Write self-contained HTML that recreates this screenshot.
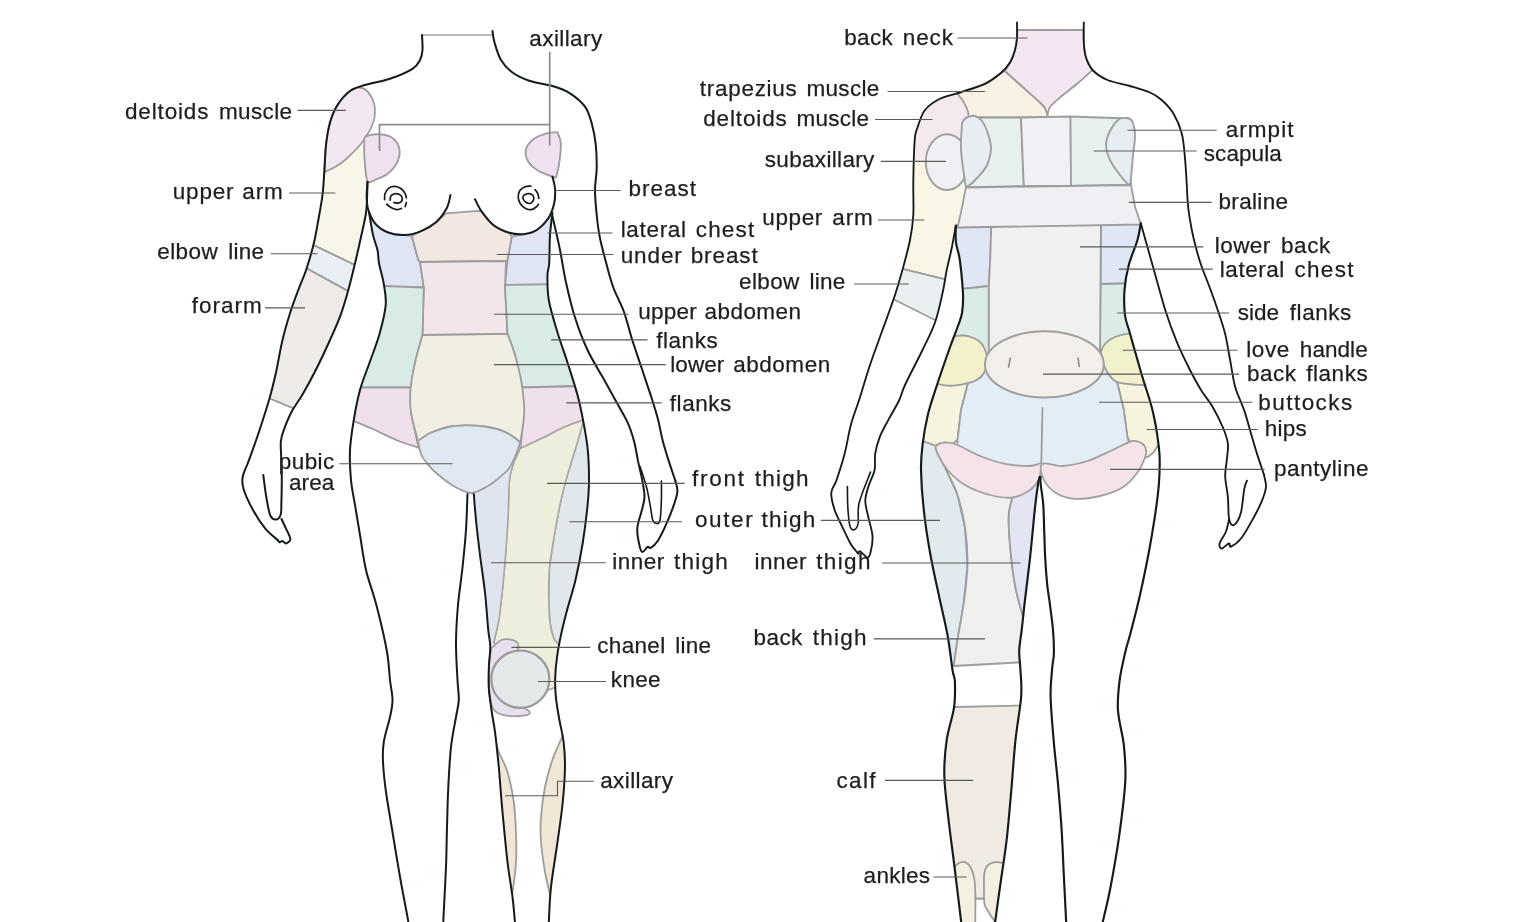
<!DOCTYPE html>
<html lang="en"><head><meta charset="utf-8"><title>Body areas</title>
<style>html,body{margin:0;padding:0;background:#fff}body{width:1536px;height:922px;overflow:hidden}svg{display:block}text{font-family:"Liberation Sans",sans-serif;font-size:22.5px;fill:#1e1e1e;stroke:#1e1e1e;stroke-width:.25px}#stage{width:1536px;height:922px;will-change:transform}</style></head><body><div id="stage">
<svg width="1536" height="922" viewBox="0 0 1536 922">
<rect width="1536" height="922" fill="#fff"/>
<defs>
<clipPath id="cFB"><path d="M408.5 923C408.3 922 408.9 924.7 407.5 917C406.1 909.3 402.5 891.2 400 877C397.5 862.8 394.8 846.2 392.5 832C390.2 817.8 387.6 803.7 386 792C384.4 780.3 383.4 770.3 383 762C382.6 753.7 382.6 749.5 383.8 742C384.9 734.5 388.5 724 390 717C391.5 710 392.5 706.2 392.5 700C392.5 693.8 390.8 687.5 390 680C389.2 672.5 388.8 663.3 387.5 655C386.2 646.7 384.6 639.2 382.5 630C380.4 620.8 377.8 610 375 600C372.2 590 368.5 580.8 366 570C363.5 559.2 361.8 545.8 360 535C358.2 524.2 356.5 514.2 355 505C353.5 495.8 351.8 489.2 351 480C350.2 470.8 349.5 460 350 450C350.5 440 352.1 430 353.8 420C355.4 410 357.4 399.6 360 390C362.6 380.4 366.4 371.7 369.6 362.5C372.8 353.3 376.5 344.6 379.2 335C381.9 325.4 385 313.7 385.7 305C386.4 296.3 384.7 289.9 383.6 283C382.5 276.1 380 268.8 379 263.3C378 257.8 378.5 254.7 377.5 250C376.5 245.3 374.4 241.3 373 235C371.6 228.7 369.7 215.8 369 212L369 30L552.5 30L552.5 213C552.1 216.7 550.5 226.6 550 235C549.5 243.4 549.6 256.6 549.2 263.3C548.8 270 547.6 268.9 547.5 275C547.4 281.1 547.1 290.4 548.8 300C550.4 309.6 554.4 322.1 557.5 332.5C560.6 342.9 564.2 352.1 567.5 362.5C570.8 372.9 574.8 385 577.5 395C580.2 405 581.8 413.3 583.5 422.5C585.2 431.7 586.9 440.4 587.8 450C588.7 459.6 589 470.8 589 480C589 489.2 588.6 494.6 587.6 505C586.6 515.4 584.8 530 582.8 542.5C580.8 555 578.1 568.8 575.5 580C572.9 591.2 569.4 601.2 567.1 610C564.8 618.8 563.1 625.1 561.5 632.6C559.9 640.1 558.3 647.6 557.3 655.1C556.2 662.6 555.4 670.7 555.2 677.7C555 684.8 555.2 690.4 555.9 697.4C556.6 704.4 558.1 712.6 559.4 720C560.7 727.4 562.7 734.2 563.6 742C564.5 749.8 565.2 756.6 565 767C564.8 777.4 563.8 792 562.5 804.5C561.2 817 559.4 828.2 557.5 842C555.6 855.8 552.5 873.5 551 887C549.5 900.5 549.1 917 548.8 923L515 923C514.6 918.7 513.8 907.2 512.5 897C511.2 886.8 509.2 876.2 507.5 862C505.8 847.8 504 827.8 502.5 812C501 796.2 500 780.3 498.8 767C497.5 753.7 496.2 741.2 495 732C493.8 722.8 492.7 718.7 491.7 711.5C490.7 704.3 489.4 696.4 488.9 688.9C488.4 681.4 488.7 673.4 488.9 666.4C489.1 659.4 490.4 652.7 490.3 646.6C490.2 640.5 489.1 638.7 488.2 629.7C487.3 620.7 486.4 605 485 592.5C483.6 580 481.5 567.1 480 555C478.5 542.9 477 530.2 476 520C475 509.8 474.1 498.3 473.8 494L467.5 494C467.2 500 466.8 517.8 466 530C465.2 542.2 463.8 555 462.5 567.5C461.2 580 459.1 592.5 458 605C456.9 617.5 456.1 630 456 642.5C455.9 655 457 670.4 457.5 680C458 689.6 459 693.8 458.8 700C458.5 706.2 457.3 709.2 456 717C454.7 724.8 452.3 735.3 451 747C449.7 758.7 449 773.7 448.3 787C447.6 800.3 447.4 813.7 447 827C446.6 840.3 446.6 852.3 446 867C445.4 881.7 444 905.7 443.6 915C443.2 924.3 443.4 921.7 443.4 923Z"/></clipPath>
<clipPath id="cFA"><path d="M365 85C362.5 86 354.6 87.7 350 91C345.4 94.3 340.8 99.8 337.5 105C334.2 110.2 331.9 115.8 330 122.5C328.1 129.2 326.9 136.8 326 145C325.1 153.2 324.9 163.7 324.3 172C323.7 180.3 323.5 187 322.5 195C321.5 203 319.7 212.2 318.3 220C316.9 227.8 316.1 233.6 314.2 241.7C312.3 249.8 309.3 260.2 306.7 268.3C304.1 276.4 301.1 282.5 298.3 290C295.5 297.5 292.6 305 290 313.3C287.4 321.6 284.9 330 282.5 340C280.1 350 278 363.5 275.8 373.3C273.6 383.1 272.2 389.1 269.4 398.8C266.6 408.6 262.4 421.5 259 431.8C255.6 442.1 251.5 453.1 248.8 460.6C246.1 468.1 243.5 472.2 242.7 477C241.8 481.8 242 484 243.7 489.5C245.4 495 249.4 503.5 253 510C256.6 516.5 261.2 523.6 265.3 528.6C269.4 533.6 275.6 538.1 277.7 540L263.3 475C263.8 478.8 265.2 490.9 266.4 497.7C267.6 504.5 268.8 512.4 270.5 516C272.2 519.6 275 519.7 276.7 519.4C278.4 519.1 280 516.9 280.8 514C281.6 511.1 281.2 507.3 281.4 501.8C281.6 496.3 281.8 487.9 281.8 481C281.8 474.1 281.6 467.1 281.4 460.6C281.2 454.1 280.4 447.1 280.8 442C281.2 436.9 282 434.9 283.9 429.7C285.8 424.5 288.9 416.8 292 411C295.1 405.2 298.4 401.5 302.4 394.7C306.4 387.9 311.2 379.1 315.8 370C320.4 360.9 326 348.9 330 340C334 331.1 336.9 325 340 316.7C343.1 308.4 345.6 299.9 348.3 290C351.1 280.1 354.1 267.3 356.5 257C358.9 246.7 361.4 235.3 363 228C364.6 220.7 365.3 217.7 366 213C366.7 208.3 366.8 205.2 367 200C367.2 194.8 367.4 185 367.5 182Z"/></clipPath>
<clipPath id="cBB"><path d="M961.3 923C960.1 913 956.2 880.7 954 862.9C951.8 845.1 949.7 830.6 948.1 816C946.5 801.4 944.5 787.7 944.3 775C944.1 762.3 945.1 751.1 946.7 739.9C948.3 728.7 952.6 717.5 954 707.7C955.4 697.9 955.1 687.6 954.9 681.3C954.6 675 953.7 677.7 952.5 670C951.3 662.3 949.8 647.5 947.5 635C945.2 622.5 941.7 608.8 938.8 595C935.8 581.2 932.5 566.7 930 552.5C927.5 538.3 925.2 523.8 923.8 510C922.2 496.2 921.2 480.8 921 470C920.8 459.2 921.4 454.2 922.5 445C923.6 435.8 925.4 425 927.8 415C930.2 405 933.5 395.8 937 385C940.5 374.2 945.4 360.2 949 350C952.6 339.8 956.5 330.2 958.7 324C960.9 317.8 961.3 317.3 962 313C962.7 308.7 963.1 303.5 963.1 298C963.1 292.5 962.6 286.7 962 280C961.4 273.3 960.5 264.3 959.5 258C958.5 251.7 956.5 247.4 955.9 242C955.3 236.6 955.8 228.5 955.8 225.8L955.8 20L1140.8 20L1140.8 223.3C1140.2 226.1 1139.5 233.1 1137.5 240C1135.5 246.9 1130.9 256.7 1128.8 265C1126.6 273.3 1125.1 281.7 1124.5 290C1123.9 298.3 1124.2 308.1 1125 315C1125.8 321.9 1127.5 324.5 1129.5 331.7C1131.5 338.9 1134.8 350.5 1137 358.3C1139.2 366.1 1140.6 371.2 1142.8 378.3C1145 385.4 1148.2 394.9 1150 401C1151.8 407.1 1152.5 409.8 1153.6 415C1154.7 420.2 1155.8 425 1156.8 432C1157.8 439 1159.3 448.2 1159.6 457C1159.9 465.8 1159.6 474.7 1158.8 484.8C1158 494.9 1156.4 506.4 1154.7 517.7C1153 529 1151.2 539.6 1148.8 552.5C1146.3 565.4 1143.1 581.2 1140 595C1136.9 608.8 1132.5 625.5 1130 635C1127.5 644.5 1127 644.3 1125.3 652C1123.5 659.7 1120.7 671.5 1119.5 681.3C1118.3 691.1 1117.3 699.9 1118 710.6C1118.7 721.3 1122.7 734 1123.9 745.7C1125.1 757.4 1126 766.2 1125.3 780.9C1124.6 795.5 1121.9 816 1119.5 833.6C1117.1 851.2 1113.5 871.4 1110.7 886.3C1107.9 901.2 1103.9 916.9 1102.5 923L1066.2 923C1065.8 914.9 1064.6 890.5 1063.8 874.6C1063 858.7 1062.5 842.9 1061.5 827.8C1060.5 812.7 1059.3 798.4 1058 783.8C1056.7 769.1 1054.8 754.5 1053.6 739.9C1052.4 725.3 1050.8 708 1050.6 696C1050.4 684 1051.7 675.2 1052.2 668C1052.8 660.8 1053.8 659.3 1053.9 653C1054 646.7 1053.7 638.5 1053 630C1052.3 621.5 1050.6 609.6 1049.6 602C1048.6 594.4 1047.9 591.9 1047.2 584.6C1046.5 577.3 1045.7 567.1 1045.2 558C1044.7 548.9 1044.5 539 1044.2 530C1043.9 521 1043.8 511.6 1043.2 504C1042.6 496.4 1041.2 489 1040.7 484.5C1040.2 480 1040.4 478.2 1040.3 477L1039.6 477C1039.3 478.2 1038.7 480 1038 484.5C1037.3 489 1036.3 496.4 1035.4 504C1034.5 511.6 1033.7 520.7 1032.8 530C1031.9 539.3 1031.1 548.3 1029.8 560C1028.5 571.7 1026.3 588.3 1025 600C1023.6 611.7 1022.7 621.5 1021.7 630C1020.7 638.5 1019.4 644.7 1019.2 651C1019 657.3 1020 660.5 1020.3 668C1020.6 675.5 1022 684 1021.2 696C1020.4 708 1017.2 723.8 1015.5 739.9C1013.8 756 1012.6 776 1011.1 792.6C1009.6 809.2 1008.4 824.9 1006.7 839.5C1005 854.1 1002.9 866.6 1000.9 880.5C998.9 894.4 996 915.9 995 923Z"/></clipPath>
<clipPath id="cBA"><path d="M1010 62.5C1008.3 64.4 1004.2 70.2 1000 73.8C995.8 77.3 991.7 80.6 985 83.8C978.3 86.9 967.5 90 960 92.5C952.5 95 945.8 95.8 940 98.8C934.2 101.7 928.8 105.2 925 110C921.2 114.8 919.2 122.5 917.5 127.5C915.8 132.5 915.4 131 914.7 140C914 149 913.5 169.2 913.3 181.7C913.1 194.2 913.8 205.3 913.3 215C912.8 224.7 911.7 231.4 910 240C908.3 248.6 905.8 257.5 903.3 266.7C900.8 275.9 898.5 284.4 895 295C891.5 305.6 886.7 318.3 882.5 330C878.3 341.7 873.9 353.3 870 365C866.1 376.7 862.3 390.1 859.1 400C855.9 409.9 853.3 415.8 850.9 424.7C848.5 433.6 847.1 444.3 844.7 453.6C842.3 462.9 838.7 473.8 836.5 480.3C834.3 486.8 831.6 487.9 831.3 492.7C830.9 497.5 832.5 503.4 834.4 509.2C836.3 515 840 521.9 842.7 527.7C845.5 533.5 848.3 539.9 850.9 544.2C853.5 548.5 856.9 552 858.1 553.5L858.1 553.5C858.5 553.1 858.7 550.7 860.2 551.4C861.8 552.1 865.7 557.4 867.4 557.6C869.1 557.8 869.6 556.1 870.5 552.5C871.4 548.9 872.9 541.9 872.5 536C872.1 530.1 869.6 523.2 868.4 517.4C867.2 511.6 865.3 506.1 865.3 501C865.3 495.9 866.8 491.7 868.4 486.5C870 481.3 873.5 475.5 874.6 470C875.7 464.5 874.4 459.1 875.2 453.6C876.1 448.1 877.6 442.6 879.7 437.1C881.8 431.6 884.7 426.8 888 420.6C891.3 414.4 896.5 405.9 899.3 400C902.1 394.1 901.1 393.3 905 385C908.9 376.7 917.5 360.4 922.5 350C927.5 339.6 931.7 331.9 935 322.5C938.3 313.1 940.5 302.1 942.5 293.3C944.5 284.6 945.2 277.5 946.7 270C948.2 262.5 950.2 255.7 951.7 248.3C953.2 240.9 955.1 229.6 955.8 225.8L960.8 213.3L965 186.7L963.3 173.3L961 150L962.5 125L968.8 117.5L1047.5 115.5L1040 102.5Z"/></clipPath>
</defs>
<g clip-path="url(#cFA)"><path d="M300 120L380 120L380 268.8L363 268.8L305 241.2L300 241Z" fill="#f8f6e8" stroke="#9d9d9d" stroke-width="1.8" stroke-linejoin="round"/></g>
<g clip-path="url(#cFA)"><path d="M305 241.2L363 268.8L357.7 296.4L296.5 262.7Z" fill="#e9eff4" stroke="#9d9d9d" stroke-width="1.8" stroke-linejoin="round"/></g>
<g clip-path="url(#cFA)"><path d="M296.5 262.7L357.7 296.4L304 412.6L259 394.2Z" fill="#eeebe8" stroke="#9d9d9d" stroke-width="1.8" stroke-linejoin="round"/></g>
<path d="M357.5 87.5C356.2 88.1 353.3 88.1 350 91C346.7 93.9 340.8 99.8 337.5 105C334.2 110.2 331.9 115.8 330 122.5C328.1 129.2 326.9 136.8 326 145C325.1 153.2 324.6 167.5 324.3 172L324.3 172C326.1 171.2 331.6 169 335 167C338.4 165 340.8 163.7 345 160C349.2 156.3 356.5 149 360 145C363.5 141 365 137.5 366 136L366 136C366.7 135 368.6 133.1 370 130C371.4 126.9 373.9 122.1 374.5 117.5C375.1 112.9 375.2 107.1 373.8 102.5C372.3 97.9 368.7 92.5 366 90C363.3 87.5 358.9 87.9 357.5 87.5Z" fill="#f3e7f1" stroke="#9d9d9d" stroke-width="1.8" stroke-linejoin="round"/>
<path d="M365.8 136.7C368.2 135.2 374 134.1 378.3 134.2C382.6 134.3 388.2 135.2 391.7 137.5C395.2 139.8 398.2 144.3 399.2 148.3C400.2 152.3 399.3 157.5 397.5 161.7C395.7 165.9 391.8 170.4 388.3 173.3C384.8 176.2 380.1 177.8 376.7 179.2C373.3 180.6 369.8 183.9 367.8 181.5C365.9 179.1 365.6 171.4 365 165C364.4 158.6 364.1 148 364.2 143.3C364.3 138.6 363.4 138.2 365.8 136.7Z" fill="#f0e1f0" stroke="#9f9f9f" stroke-width="1.9" stroke-linejoin="round"/>
<path d="M557.5 132.3C555.7 132.5 550.7 132.2 546.7 133.3C542.7 134.5 536.8 136.4 533.3 139.2C529.8 142 526.6 146.2 525.8 150C525 153.8 526.2 158.2 528.3 161.7C530.4 165.2 534.1 168.2 538.3 170.8C542.5 173.4 550.5 175.9 553.5 177C556.5 178.1 555.6 177.4 556 177.5L556 177.5C556.5 175.1 558.4 169 559.2 163.3C560 157.6 561.1 148.5 560.8 143.3C560.5 138.1 558 134.1 557.5 132.3Z" fill="#f0e1f0" stroke="#9f9f9f" stroke-width="1.9" stroke-linejoin="round"/>
<g clip-path="url(#cFB)"><path d="M368.3 210C369.4 212.2 371.7 219.6 375 223.3C378.3 227.1 383.3 230.6 388.3 232.5C393.3 234.4 401.1 234.4 405 235C408.9 235.6 410.6 235.7 411.7 235.8L418.3 260L420 262L423.8 287.5L350 286L350 205Z" fill="#dfe5f4" stroke="#9d9d9d" stroke-width="1.8" stroke-linejoin="round"/></g>
<g clip-path="url(#cFB)"><path d="M511.7 236.7C513.6 236.3 519.1 235.3 523.3 234.2C527.5 233.1 532.5 232.7 536.7 230C540.9 227.3 545.7 221.1 548.3 218.3C550.9 215.5 551.8 213.9 552.5 213L600 213L600 283.8L505 285L507.5 260Z" fill="#dfe5f4" stroke="#9d9d9d" stroke-width="1.8" stroke-linejoin="round"/></g>
<path d="M445.8 213.3L478.3 210.8L481.7 211.7C483.6 213.9 488.9 221.5 493.3 225C497.7 228.5 505.2 230.6 508.3 232.5C511.4 234.4 511.1 236 511.7 236.7L507.5 260L506 261L420 262L418.3 260L411.7 235.8L411.7 235.8C413.4 235 417.5 233.2 421.7 230.8C425.9 228.5 432.7 224.6 436.7 221.7C440.7 218.8 444.3 214.7 445.8 213.3Z" fill="#f2e8e1" stroke="#9d9d9d" stroke-width="1.8" stroke-linejoin="round"/>
<path d="M420 262L506 261L505 287L507.5 333.8L422.5 335L423.8 287.5Z" fill="#f3e6ea" stroke="#9d9d9d" stroke-width="1.8" stroke-linejoin="round"/>
<g clip-path="url(#cFB)"><path d="M350 286L385 286L423.8 287.5L422.5 335L415 362.5L410.5 387.5L350 387.5Z" fill="#d9ebe6" stroke="#9d9d9d" stroke-width="1.8" stroke-linejoin="round"/></g>
<g clip-path="url(#cFB)"><path d="M505 285L600 283.8L600 386L572.5 386L521 387.5L515 355L507.5 333.8Z" fill="#d9ebe6" stroke="#9d9d9d" stroke-width="1.8" stroke-linejoin="round"/></g>
<g clip-path="url(#cFB)"><path d="M345 387.5L410.5 387.5L411 412.5L418.5 447.5L418.5 447.5C415 446.3 404.9 443.5 397.5 440.5C390.1 437.5 381.2 432.8 373.9 429.5C366.6 426.2 358.6 423 353.8 421C348.9 419 346.5 418.1 345 417.5Z" fill="#efe0eb" stroke="#9d9d9d" stroke-width="1.8" stroke-linejoin="round"/></g>
<g clip-path="url(#cFB)"><path d="M524.2 412.5L521 387.5L600 386L600 412L600 412C597.3 413.3 589.5 417.3 583.7 419.8C577.9 422.3 571.9 423.8 565.1 426.8C558.3 429.8 550.6 434.2 543.1 437.8C535.6 441.4 524.1 446.8 520.3 448.6Z" fill="#efe0eb" stroke="#9d9d9d" stroke-width="1.8" stroke-linejoin="round"/></g>
<g clip-path="url(#cFB)"><path d="M583.7 419.8L577.5 442L566 480L561 500L555.2 530L549.5 567.5L548.8 600L550.2 624L553.7 638.2L558.7 644.5L600 648L600 412Z" fill="#e1e8eb" stroke="#a8a8a8" stroke-width="1.6" stroke-linejoin="round"/></g>
<g clip-path="url(#cFB)"><path d="M520.3 448.6C524.1 446.8 535.6 441.4 543.1 437.8C550.6 434.2 558.3 429.8 565.1 426.8C571.9 423.8 580.6 421 583.7 419.8L583.7 419.8C582.7 423.5 580.5 432 577.5 442C574.5 452 568.8 470.3 566 480C563.2 489.7 562.8 491.7 561 500C559.2 508.3 557.1 518.8 555.2 530C553.3 541.2 550.6 555.8 549.5 567.5C548.4 579.2 548.6 590.6 548.8 600C548.9 609.4 549.4 617.6 550.2 624C551 630.4 552.3 634.8 553.7 638.2C555.1 641.6 557.9 643.5 558.7 644.5L565 646L565 684L548 690L520 690L493.8 642.4L493.8 642.4C494.5 639.3 496.9 629.4 498 624C499.1 618.6 499 620.2 500.2 610C501.4 599.8 503.7 577.9 505 562.5C506.3 547.1 507.2 531.2 508 517.5C508.8 503.8 508.5 489.2 509.5 480C510.5 470.8 513.2 465 514 462Z" fill="#eeeedc" stroke="#a8a8a8" stroke-width="1.6" stroke-linejoin="round"/></g>
<path d="M520 445C519 447.8 515.8 456.2 514 462C512.2 467.8 510.5 470.8 509.5 480C508.5 489.2 508.8 503.8 508 517.5C507.2 531.2 506.3 547.1 505 562.5C503.7 577.9 501.4 599.8 500.2 610C499 620.2 499.1 618.6 498 624C496.9 629.4 494.5 639.3 493.8 642.4L490.3 646.6L490.3 646.6C489.9 643.8 489.1 638.7 488.2 629.7C487.3 620.7 486.4 605 485 592.5C483.6 580 481.5 567.1 480 555C478.5 542.9 477 530.2 476 520C475 509.8 474.1 498.3 473.8 494Z" fill="#dfe5ee" stroke="none" stroke-width="1.8" stroke-linejoin="round"/>
<path d="M520 445C519 447.8 515.8 456.2 514 462C512.2 467.8 510.5 470.8 509.5 480C508.5 489.2 508.8 503.8 508 517.5C507.2 531.2 506.3 547.1 505 562.5C503.7 577.9 501.4 599.8 500.2 610C499 620.2 499.1 618.6 498 624C496.9 629.4 494.5 639.3 493.8 642.4" fill="none" stroke="#a8a8a8" stroke-width="1.6" stroke-linecap="round" stroke-linejoin="round"/>
<path d="M422.5 335L465 334.6L507.5 333.8L507.5 333.8C508.8 337.3 512.7 346.9 515 355C517.3 363.1 520 372.9 521.5 382.5C523 392.1 524.4 402.5 524.2 412.5C524 422.5 520.9 437.6 520.3 442.6L520.3 442.6C519.3 441.8 517.3 439.5 514.3 437.5C511.3 435.5 507.6 432.6 502.5 430.8C497.4 429 490.1 427.4 483.9 426.5C477.7 425.6 471.2 425.3 465.3 425.4C459.4 425.5 454 425.8 448.3 427C442.6 428.2 436.5 430.2 431.4 432.5C426.3 434.8 420.1 439.6 417.9 441L417.9 441C416.8 436.2 412.2 421 411 412.5C409.8 404 409.8 398.3 410.5 390C411.2 381.7 413 371.7 415 362.5C417 353.3 421.2 339.6 422.5 335Z" fill="#f1efe2" stroke="#9d9d9d" stroke-width="1.8" stroke-linejoin="round"/>
<path d="M417.9 441C420.1 439.6 426.3 434.8 431.4 432.5C436.5 430.2 442.6 428.2 448.3 427C454 425.8 459.4 425.5 465.3 425.4C471.2 425.3 477.7 425.6 483.9 426.5C490.1 427.4 497.4 429 502.5 430.8C507.6 432.6 511.3 435.5 514.3 437.5C517.3 439.5 519.3 441.8 520.3 442.6L520.3 442.6C519.6 444.6 517.8 450.3 516 454.5C514.2 458.7 511.6 464.6 509.3 468C507.1 471.4 505.3 472.3 502.5 474.8C499.7 477.3 496.2 480.5 492.3 483.2C488.4 485.9 482.2 489.3 478.8 490.9C475.4 492.5 474.2 492.9 472 493C469.8 493.1 468.7 493.1 465.3 491.7C461.9 490.3 456.2 487.7 451.7 484.9C447.2 482.1 442.1 478.2 438.2 474.8C434.2 471.4 430.8 468 428 464.6C425.2 461.2 422.9 458.4 421.2 454.5C419.5 450.6 418.4 443.2 417.9 441Z" fill="#e0e9f1" stroke="#9d9d9d" stroke-width="1.8" stroke-linejoin="round"/>
<path d="M491 650C491.7 646.8 491.5 648.3 493.1 646.7C494.8 645.1 498.2 641.5 500.9 640.3C503.6 639.1 506.7 639.1 509.3 639.3C511.9 639.5 514.8 640.5 516.4 641.7C518 642.9 518.7 645.1 518.7 646.7C518.7 648.3 518.2 649.8 516.4 651.5C514.6 653.2 510.7 654.2 508 657C505.3 659.8 501.8 663.3 500 668C498.2 672.7 496.8 680 497 685C497.2 690 498.8 694.7 501 698C503.2 701.3 506.5 703.4 510 705C513.5 706.6 519 706.6 522 707.5C525 708.4 526.4 709.2 527.7 710.1C529 711 530 711.8 529.8 712.6C529.6 713.5 529 714.6 526.3 715.2C523.6 715.8 517.8 716.4 513.6 716.2C509.4 716.1 504.3 715.5 500.9 714.3C497.5 713 495.1 712.8 493.1 708.7C491.1 704.7 489.7 697.1 489 690C488.3 682.9 488.7 672.7 489 666C489.3 659.3 490.3 653.2 491 650Z" fill="#e9e0ef" stroke="#a0a0a0" stroke-width="1.8" stroke-linejoin="round"/>
<ellipse cx="520.3" cy="679.2" rx="29" ry="28.7" fill="#e3e9e8" stroke="#999" stroke-width="2.2"/>
<g clip-path="url(#cFB)"><path d="M496 742C496.5 743.7 496.8 747 498.8 752C500.7 757 505 763.7 507.5 772C510 780.3 512.3 792 513.8 802C515.2 812 515.6 822 516 832C516.4 842 516.6 852 516 862C515.4 872 513.5 885.7 512.5 892C511.5 898.3 510.4 898.7 510 900L488 900L488 742Z" fill="#f0e7d6" stroke="#9d9d9d" stroke-width="1.8" stroke-linejoin="round"/></g>
<g clip-path="url(#cFB)"><path d="M563 733C562.7 734.1 562.8 735.1 561 739.5C559.2 743.9 555.2 751.6 552.5 759.5C549.8 767.4 546.9 777.4 545 787C543.1 796.6 541.7 807.8 541 817C540.3 826.2 540.3 832.8 541 842C541.7 851.2 543.5 863.2 545 872C546.5 880.8 549 889.8 550 894.5C551 899.2 550.8 899.1 551 900L575 900L575 733Z" fill="#f0e7d6" stroke="#9d9d9d" stroke-width="1.8" stroke-linejoin="round"/></g>
<g clip-path="url(#cBA)"><path d="M900 150L975 150L975 286.7L944.2 279.2L903.3 269.2L890 266Z" fill="#f9f6e6" stroke="#9d9d9d" stroke-width="1.8" stroke-linejoin="round"/></g>
<g clip-path="url(#cBA)"><path d="M900 85L957.5 93.8L967.5 110L968.8 117.5L968 162L900 162Z" fill="#f5e9f0" stroke="none" stroke-width="1.8" stroke-linejoin="round"/></g>
<g clip-path="url(#cBA)"><path d="M890 266L903.3 269.2L944.2 279.2L960 283L950 325L935 320L895 300L880 296Z" fill="#eaf0f2" stroke="#9d9d9d" stroke-width="1.8" stroke-linejoin="round"/></g>
<path d="M1005 71C1004.2 71.5 1003.3 71.6 1000 73.8C996.7 75.9 991.7 80.6 985 83.8C978.3 86.9 964.6 90.8 960 92.5C955.4 94.2 957.9 93.5 957.5 93.8L957.5 93.8C958.4 95 961.3 98.3 963 101C964.7 103.7 966.5 107.2 967.5 110C968.5 112.8 968.5 116.2 968.8 117.5L1047.5 117.5L1047.5 115C1047.1 113.8 1046.2 110.1 1045 108C1043.8 105.9 1043.3 105.7 1040 102.5C1036.7 99.3 1030.8 94.2 1025 89C1019.2 83.8 1008.3 74 1005 71Z" fill="#f9f1e4" stroke="#9d9d9d" stroke-width="1.8" stroke-linejoin="round"/>
<path d="M1017 30L1017 37.5C1016.7 39.6 1016.2 45.8 1015 50C1013.8 54.2 1011.7 59 1010 62.5C1008.3 66 1005.8 69.6 1005 71L1005 71C1008.3 74 1019.2 83.8 1025 89C1030.8 94.2 1036.7 99.3 1040 102.5C1043.3 105.7 1043.8 105.9 1045 108C1046.2 110.1 1047.1 113.8 1047.5 115L1047.5 115C1047.9 113.7 1047.9 109.9 1050 107C1052.1 104.1 1055.3 101.5 1060 97.5C1064.7 93.5 1072.6 87.6 1078 83C1083.4 78.4 1090.1 72.2 1092.5 70L1092.5 70C1091.4 67.9 1087.5 62.1 1086 57.5C1084.5 52.9 1084.1 45 1083.8 42.5L1083.8 30Z" fill="#f4e7f3" stroke="#9d9d9d" stroke-width="1.8" stroke-linejoin="round"/>
<g clip-path="url(#cBA)"><ellipse cx="947" cy="162.1" rx="21.2" ry="27.9" fill="#eff0f3" stroke="#9f9f9f" stroke-width="1.9"/></g>
<path d="M966 117.5L1021 117.5L1023.8 186L966 187.5Z" fill="#e5f1ea" stroke="#9d9d9d" stroke-width="1.8" stroke-linejoin="round"/>
<path d="M1021 117.5L1070.5 116.5L1071 186L1023.8 186Z" fill="#f0f0f6" stroke="#9d9d9d" stroke-width="1.8" stroke-linejoin="round"/>
<path d="M1070.5 116.5L1128 118.5L1131 185L1071 186Z" fill="#e5f1ea" stroke="#9d9d9d" stroke-width="1.8" stroke-linejoin="round"/>
<path d="M962.5 122C963.4 119.6 964.9 118.5 967 117.5C969.1 116.5 972.5 115.4 975 116C977.5 116.6 980 118.5 982 121C984 123.5 985.5 126.6 987 131C988.5 135.4 991 141.8 991 147.5C991 153.2 989.2 160.1 987 165C984.8 169.9 981.3 173.4 978 177C974.7 180.6 969.2 186.3 967 186.5C964.8 186.7 965.5 184.1 964.5 178C963.5 171.9 961.5 157.7 961 150C960.5 142.3 961.2 136.7 961.5 132C961.8 127.3 961.6 124.4 962.5 122Z" fill="#e6eef2" stroke="#9f9f9f" stroke-width="1.9" stroke-linejoin="round"/>
<path d="M1118.8 119.5C1121.4 117.3 1123.8 117.8 1126 118C1128.2 118.2 1130.5 118.2 1132 121C1133.5 123.8 1134.8 129.3 1135 135C1135.2 140.7 1133.8 147.1 1133 155C1132.2 162.9 1131.2 177.6 1130.5 182.5C1129.8 187.4 1130.2 185.8 1128.5 184.5C1126.8 183.2 1123.1 179.1 1120 175C1116.9 170.9 1112.3 165 1110 160C1107.7 155 1106 149.8 1106 145C1106 140.2 1107.9 135.2 1110 131C1112.1 126.8 1116.1 121.7 1118.8 119.5Z" fill="#e6eef2" stroke="#9f9f9f" stroke-width="1.9" stroke-linejoin="round"/>
<g clip-path="url(#cBB)"><path d="M940 225L991.3 225L990.3 258L988.8 286L962.5 288.8L940 289Z" fill="#dfe6f5" stroke="#9d9d9d" stroke-width="1.8" stroke-linejoin="round"/></g>
<g clip-path="url(#cBB)"><path d="M1101 224L1150 224L1150 283L1100.5 284Z" fill="#dfe6f5" stroke="#9d9d9d" stroke-width="1.8" stroke-linejoin="round"/></g>
<g clip-path="url(#cBB)"><path d="M940 289L962.5 288.8L988.8 286L988.8 362L940 362Z" fill="#d9ece8" stroke="#9d9d9d" stroke-width="1.8" stroke-linejoin="round"/></g>
<g clip-path="url(#cBB)"><path d="M1100.5 284L1150 283L1150 362L1100 362Z" fill="#d9ece8" stroke="#9d9d9d" stroke-width="1.8" stroke-linejoin="round"/></g>
<g clip-path="url(#cBB)"><path d="M910 378L969 378L967.5 385L961 410L957.5 440L950 446L936 446L922.5 441L910 441Z" fill="#f6f3df" stroke="#9d9d9d" stroke-width="1.8" stroke-linejoin="round"/></g>
<g clip-path="url(#cBB)"><path d="M1117.5 383.8L1116 376L1175 376L1175 446L1158.5 444.5L1154 452L1148.5 456.5L1141 459.5L1127.5 437.5L1123.8 410Z" fill="#f6f3df" stroke="#9d9d9d" stroke-width="1.8" stroke-linejoin="round"/></g>
<path d="M967.5 385L976 354L1110 354L1117.5 383.8L1123.8 410L1127.5 437.5L1130 445L1130 472L957 472L957.5 440L961 410Z" fill="#e3edf6" stroke="#9d9d9d" stroke-width="1.8" stroke-linejoin="round"/>
<path d="M1042.5 408L1041 478" fill="none" stroke="#9d9d9d" stroke-width="1.8" stroke-linecap="round" stroke-linejoin="round"/>
<g clip-path="url(#cBB)"><path d="M938 344C942.7 336.5 948.4 338.4 952.4 337C956.4 335.6 959 335.5 962 335.5C965 335.5 967.8 335.9 970.6 336.8C973.4 337.7 976.7 339.1 979 341C981.3 342.9 983.1 345.3 984.5 348.5C985.9 351.7 987.4 355.9 987.3 360C987.2 364.1 985.6 369.8 984 373C982.4 376.2 979.8 377.9 977.5 379.5C975.2 381.1 974.2 381.6 970 382.6C965.8 383.6 957.7 385.4 952.4 385.7C947.1 386 942.7 384.8 938 384.2C933.3 383.6 924 388.7 924 382C924 375.3 933.3 351.5 938 344Z" fill="#f3f0cc" stroke="#9d9d9d" stroke-width="1.8" stroke-linejoin="round"/></g>
<g clip-path="url(#cBB)"><path d="M1101 352.5C1101.2 348.3 1103.5 345.7 1106 343C1108.5 340.3 1112.4 338 1116 336.5C1119.6 335 1123.5 334.5 1127.5 333.8C1131.5 333 1133.8 331 1140 332C1146.2 333 1160.8 331 1165 340C1169.2 349 1168.8 378.5 1165 386C1161.2 393.5 1148.7 385.3 1142.5 385C1136.3 384.7 1132.6 384.7 1128 384C1123.4 383.3 1118.8 383.7 1115 381C1111.2 378.3 1107.3 372.8 1105 368C1102.7 363.2 1100.8 356.7 1101 352.5Z" fill="#f3f0cc" stroke="#9d9d9d" stroke-width="1.8" stroke-linejoin="round"/></g>
<path d="M991.3 225L1101 224L1100.8 240L1100 355L988.8 355L988.8 286L990.3 258Z" fill="#f0f0f1" stroke="#9d9d9d" stroke-width="1.8" stroke-linejoin="round"/>
<ellipse cx="1044.4" cy="364.4" rx="59.4" ry="33.1" fill="#f2eeea" stroke="#9f9f9f" stroke-width="2"/>
<path d="M1010.3 358L1008.6 367" fill="none" stroke="#8a8a8a" stroke-width="1.6" stroke-linecap="round" stroke-linejoin="round"/>
<path d="M1078 358L1079.3 366.5" fill="none" stroke="#8a8a8a" stroke-width="1.6" stroke-linecap="round" stroke-linejoin="round"/>
<path d="M966 187.5L1131 185L1135 206.7L1141 224.5L957.5 227.5L960.8 213.3L965 192Z" fill="#f0f0f4" stroke="#9d9d9d" stroke-width="1.8" stroke-linejoin="round"/>
<g clip-path="url(#cBB)"><path d="M910 441L922.5 441L936 446L937.5 452.5L947.5 472.5L957.5 495L965 527.5L967.5 565L963.8 602.5L957.5 640L953.8 666L910 666Z" fill="#e0eaef" stroke="#9d9d9d" stroke-width="1.8" stroke-linejoin="round"/></g>
<g clip-path="url(#cBB)"><path d="M940 455L1040 470L1012.5 497.5L1012.5 497.5C1011.9 500.4 1009.2 507.1 1008.8 515C1008.3 522.9 1009 533.3 1010 545C1011 556.7 1012.9 573.3 1015 585C1017.1 596.7 1021.2 610 1022.5 615L1032 620L1032 662.2L1017.5 662.5L953.8 666L953.8 666C954.4 661.7 955.8 650.6 957.5 640C959.2 629.4 962.1 615 963.8 602.5C965.4 590 967.3 577.5 967.5 565C967.7 552.5 966.7 539.2 965 527.5C963.3 515.8 960.4 504.2 957.5 495C954.6 485.8 949.2 476.2 947.5 472.5Z" fill="#efefed" stroke="#9d9d9d" stroke-width="1.8" stroke-linejoin="round"/></g>
<g clip-path="url(#cBB)"><path d="M1040 478L1012.5 497.5L1012.5 497.5C1011.9 500.4 1009.2 507.1 1008.8 515C1008.3 522.9 1009 533.3 1010 545C1011 556.7 1012.9 573.3 1015 585C1017.1 596.7 1021.2 610 1022.5 615L1040 620Z" fill="#e3e5f3" stroke="#9d9d9d" stroke-width="1.8" stroke-linejoin="round"/></g>
<path d="M936 446C937.2 444.2 941.4 442.7 945 442.5C948.6 442.3 951.7 442.8 957.5 445C963.3 447.2 972.1 452.9 980 456C987.9 459.1 996.7 462.1 1005 463.8C1013.3 465.4 1023.9 466 1030 466C1036.1 466 1039.8 462.5 1041.5 463.5C1043.2 464.5 1041 469.2 1040.5 472C1040 474.8 1040.2 477 1038.5 480C1036.8 483 1034.3 487.1 1030 490C1025.7 492.9 1019.2 496.7 1012.5 497.5C1005.8 498.3 997.9 497.1 990 495C982.1 492.9 972.1 489.2 965 485C957.9 480.8 952.1 475.2 947.5 470C942.9 464.8 939.4 457.5 937.5 453.5C935.6 449.5 934.8 447.8 936 446Z" fill="#f4e3e8" stroke="#a0a0a0" stroke-width="1.8" stroke-linejoin="round"/>
<path d="M1042.5 463.8C1045.8 461.8 1055 466.5 1062.5 466C1070 465.5 1079.2 463.7 1087.5 461C1095.8 458.3 1105 453.3 1112.5 450C1120 446.7 1127.5 442 1132.5 441C1137.5 440 1140.2 442.2 1142.5 443.8C1144.8 445.2 1145.6 447.7 1146 450C1146.4 452.3 1146.4 453.8 1145 457.5C1143.6 461.2 1141.2 467.5 1137.5 472.5C1133.8 477.5 1128.8 483.6 1122.5 487.5C1116.2 491.4 1107.9 494.1 1100 496C1092.1 497.9 1082.5 499.3 1075 498.8C1067.5 498.2 1060.3 496 1055 492.5C1049.7 489 1045.1 482.8 1043 478C1040.9 473.2 1039.2 465.8 1042.5 463.8Z" fill="#f4e3e8" stroke="#a0a0a0" stroke-width="1.8" stroke-linejoin="round"/>
<g clip-path="url(#cBB)"><path d="M935 707.3L954.9 707L1018.4 705.6L1035 705.3L1035 898.6L935 898.6Z" fill="#f1eae2" stroke="#9d9d9d" stroke-width="1.8" stroke-linejoin="round"/></g>
<g clip-path="url(#cBB)"><path d="M955 866C955.8 865.4 958.2 863.1 960 862.5C961.8 861.9 964.2 861.6 966 862.5C967.8 863.4 969.6 865.1 971 868C972.4 870.9 973.8 875 974.5 880C975.2 885 975.3 889.7 975.4 898C975.5 906.3 975.2 924.7 975.2 930L950 930Z" fill="#f4f0e0" stroke="#9d9d9d" stroke-width="1.8" stroke-linejoin="round"/></g>
<g clip-path="url(#cBB)"><path d="M1010 866C1008.7 865.5 1005 863.5 1002.3 862.9C999.5 862.3 996 861.8 993.5 862.3C991 862.8 988.5 864 987 866C985.5 868 984.7 870.6 984.2 874.6C983.7 878.6 984 885.1 984 890C984 894.9 983.7 900.2 984.5 904C985.3 907.8 987.1 909.5 989 912.7C990.9 915.9 994.8 921.3 996 923L996 930L1010 930Z" fill="#f4f0e0" stroke="#9d9d9d" stroke-width="1.8" stroke-linejoin="round"/></g>
<path d="M975.4 898.6L984.2 898.6" fill="none" stroke="#9d9d9d" stroke-width="1.8" stroke-linecap="round" stroke-linejoin="round"/>
<path d="M422 35L492.5 35" fill="none" stroke="#a0a8a8" stroke-width="1.5" stroke-linecap="round" stroke-linejoin="round"/>
<path d="M422 35C422.1 37.5 422.8 45.8 422.5 50C422.2 54.2 421.7 56.9 420 60C418.3 63.1 417.5 65.6 412.5 68.8C407.5 71.9 397.9 76 390 78.8C382.1 81.5 371.7 83 365 85C358.3 87 354.6 87.7 350 91C345.4 94.3 340.8 99.8 337.5 105C334.2 110.2 331.9 115.8 330 122.5C328.1 129.2 326.9 136.8 326 145C325.1 153.2 324.9 163.7 324.3 172C323.7 180.3 323.5 187 322.5 195C321.5 203 319.7 212.2 318.3 220C316.9 227.8 316.1 233.6 314.2 241.7C312.3 249.8 309.3 260.2 306.7 268.3C304.1 276.4 301.1 282.5 298.3 290C295.5 297.5 292.6 305 290 313.3C287.4 321.6 284.9 330 282.5 340C280.1 350 278 363.5 275.8 373.3C273.6 383.1 272.2 389.1 269.4 398.8C266.6 408.6 262.4 421.5 259 431.8C255.6 442.1 251.5 453.1 248.8 460.6C246.1 468.1 243.5 472.2 242.7 477C241.8 481.8 242 484 243.7 489.5C245.4 495 249.4 503.5 253 510C256.6 516.5 261.2 523.6 265.3 528.6C269.4 533.6 275.6 538.1 277.7 540" fill="none" stroke="#151b1b" stroke-width="2.0" stroke-linecap="round" stroke-linejoin="round"/>
<path d="M277.7 540C278 540.4 278.9 542.1 279.7 542.3C280.5 542.5 281.4 540.8 282.5 541C283.6 541.2 284.7 543.8 286 543.5C287.3 543.2 290.3 541.5 290.3 539C290.3 536.5 287.5 531.9 286 528.6C284.5 525.3 282.2 520.6 281.5 519" fill="none" stroke="#151b1b" stroke-width="2.0" stroke-linecap="round" stroke-linejoin="round"/>
<path d="M367.5 182C367.4 185 367.2 194.8 367 200C366.8 205.2 366.7 208.3 366 213C365.3 217.7 364.6 220.7 363 228C361.4 235.3 358.9 246.7 356.5 257C354.1 267.3 351.1 280.1 348.3 290C345.6 299.9 343.1 308.4 340 316.7C336.9 325 334 331.1 330 340C326 348.9 320.4 360.9 315.8 370C311.2 379.1 306.4 387.9 302.4 394.7C298.4 401.5 295.1 405.2 292 411C288.9 416.8 285.8 424.5 283.9 429.7C282 434.9 281.2 436.9 280.8 442C280.4 447.1 281.2 454.1 281.4 460.6C281.6 467.1 281.8 474.1 281.8 481C281.8 487.9 281.6 496.3 281.4 501.8C281.2 507.3 281.6 511.1 280.8 514C280 516.9 278.4 519.1 276.7 519.4C275 519.7 272.2 519.6 270.5 516C268.8 512.4 267.6 504.5 266.4 497.7C265.2 490.9 263.8 478.8 263.3 475" fill="none" stroke="#151b1b" stroke-width="2.0" stroke-linecap="round" stroke-linejoin="round"/>
<path d="M369 212C369.7 215.8 371.6 228.7 373 235C374.4 241.3 376.5 245.3 377.5 250C378.5 254.7 378 257.8 379 263.3C380 268.8 382.5 276.1 383.6 283C384.7 289.9 386.4 296.3 385.7 305C385 313.7 381.9 325.4 379.2 335C376.5 344.6 372.8 353.3 369.6 362.5C366.4 371.7 362.6 380.4 360 390C357.4 399.6 355.4 410 353.8 420C352.1 430 350.5 440 350 450C349.5 460 350.2 470.8 351 480C351.8 489.2 353.5 495.8 355 505C356.5 514.2 358.2 524.2 360 535C361.8 545.8 363.5 559.2 366 570C368.5 580.8 372.2 590 375 600C377.8 610 380.4 620.8 382.5 630C384.6 639.2 386.2 646.7 387.5 655C388.8 663.3 389.2 672.5 390 680C390.8 687.5 392.5 693.8 392.5 700C392.5 706.2 391.5 710 390 717C388.5 724 384.9 734.5 383.8 742C382.6 749.5 382.6 753.7 383 762C383.4 770.3 384.4 780.3 386 792C387.6 803.7 390.2 817.8 392.5 832C394.8 846.2 397.5 862.8 400 877C402.5 891.2 406.1 909.3 407.5 917C408.9 924.7 408.3 922 408.5 923" fill="none" stroke="#151b1b" stroke-width="2.0" stroke-linecap="round" stroke-linejoin="round"/>
<path d="M467.5 494C467.2 500 466.8 517.8 466 530C465.2 542.2 463.8 555 462.5 567.5C461.2 580 459.1 592.5 458 605C456.9 617.5 456.1 630 456 642.5C455.9 655 457 670.4 457.5 680C458 689.6 459 693.8 458.8 700C458.5 706.2 457.3 709.2 456 717C454.7 724.8 452.3 735.3 451 747C449.7 758.7 449 773.7 448.3 787C447.6 800.3 447.4 813.7 447 827C446.6 840.3 446.6 852.3 446 867C445.4 881.7 444 905.7 443.6 915C443.2 924.3 443.4 921.7 443.4 923" fill="none" stroke="#151b1b" stroke-width="2.0" stroke-linecap="round" stroke-linejoin="round"/>
<path d="M473.8 494C474.1 498.3 475 509.8 476 520C477 530.2 478.5 542.9 480 555C481.5 567.1 483.6 580 485 592.5C486.4 605 487.3 620.7 488.2 629.7C489.1 638.7 490.2 640.5 490.3 646.6C490.4 652.7 489.1 659.4 488.9 666.4C488.7 673.4 488.4 681.4 488.9 688.9C489.4 696.4 490.7 704.3 491.7 711.5C492.7 718.7 493.8 722.8 495 732C496.2 741.2 497.5 753.7 498.8 767C500 780.3 501 796.2 502.5 812C504 827.8 505.8 847.8 507.5 862C509.2 876.2 511.2 886.8 512.5 897C513.8 907.2 514.6 918.7 515 923" fill="none" stroke="#151b1b" stroke-width="2.0" stroke-linecap="round" stroke-linejoin="round"/>
<path d="M552.5 213C552.1 216.7 550.5 226.6 550 235C549.5 243.4 549.6 256.6 549.2 263.3C548.8 270 547.6 268.9 547.5 275C547.4 281.1 547.1 290.4 548.8 300C550.4 309.6 554.4 322.1 557.5 332.5C560.6 342.9 564.2 352.1 567.5 362.5C570.8 372.9 574.8 385 577.5 395C580.2 405 581.8 413.3 583.5 422.5C585.2 431.7 586.9 440.4 587.8 450C588.7 459.6 589 470.8 589 480C589 489.2 588.6 494.6 587.6 505C586.6 515.4 584.8 530 582.8 542.5C580.8 555 578.1 568.8 575.5 580C572.9 591.2 569.4 601.2 567.1 610C564.8 618.8 563.1 625.1 561.5 632.6C559.9 640.1 558.3 647.6 557.3 655.1C556.2 662.6 555.4 670.7 555.2 677.7C555 684.8 555.2 690.4 555.9 697.4C556.6 704.4 558.1 712.6 559.4 720C560.7 727.4 562.7 734.2 563.6 742C564.5 749.8 565.2 756.6 565 767C564.8 777.4 563.8 792 562.5 804.5C561.2 817 559.4 828.2 557.5 842C555.6 855.8 552.5 873.5 551 887C549.5 900.5 549.1 917 548.8 923" fill="none" stroke="#151b1b" stroke-width="2.0" stroke-linecap="round" stroke-linejoin="round"/>
<path d="M552.5 216.7C553.8 222.2 557.8 239 560 250C562.2 261 563.5 271.2 566 282.5C568.5 293.8 571.4 306.2 575 317.5C578.6 328.8 582.8 339.9 587.5 350C592.2 360.1 598.6 369.9 603.3 378.3C608 386.7 611.5 393.1 615.6 400.6C619.7 408.1 624.9 416.4 628 423.3C631.1 430.2 632.5 435.3 634.2 441.8C635.9 448.3 636.9 455.9 638.3 462.4C639.7 468.9 641.4 475.2 642.4 481C643.4 486.8 644.7 492.3 644.5 497.4C644.3 502.5 642.6 506.7 641.4 511.8C640.2 517 637.6 522.8 637.3 528.3C636.9 533.8 638.4 540.8 639.3 544.8C640.1 548.8 641 551.6 642.4 552C643.8 552.4 646.2 547.6 647.6 546.9C649 546.2 648.9 548.9 650.6 547.9C652.3 546.9 655.1 545 657.9 540.7C660.6 536.4 664.4 528.4 667.1 522.2C669.8 516 672.6 508.8 674.3 503.6C676 498.4 677.2 495 677.4 491.2C677.6 487.4 675.7 482.7 675.4 481" fill="none" stroke="#151b1b" stroke-width="2.0" stroke-linecap="round" stroke-linejoin="round"/>
<path d="M492.5 31C492.8 32.9 493.1 37.7 494.5 42.5C495.9 47.3 498 55 501 60C504 65 507.7 69 512.5 72.5C517.3 76 523.3 78.8 530 81C536.7 83.2 545.8 84 552.5 86C559.2 88 564.6 89.8 570 93.3C575.4 96.8 581.4 101.7 585 106.7C588.6 111.7 589.9 116.9 591.7 123.3C593.5 129.7 595 137.5 595.8 145C596.6 152.5 596.8 160.8 596.7 168.3C596.6 175.8 595 182.2 595 190C595 197.8 595.9 206.9 596.7 215C597.5 223.1 598.3 230 600 238.3C601.7 246.6 604.5 256.7 606.7 265C609 273.3 610.6 280.2 613.5 288C616.4 295.8 621 303.6 624 312C627 320.4 628.8 328.9 631.7 338.3C634.7 347.7 638.4 358.3 641.7 368.3C645 378.3 649 389.8 651.7 398.3C654.4 406.8 656 411.9 657.9 419.1C659.8 426.4 661.1 434.6 663 441.8C664.9 449 667.1 455.9 669.2 462.4C671.3 468.9 674.4 477.9 675.4 481" fill="none" stroke="#151b1b" stroke-width="2.0" stroke-linecap="round" stroke-linejoin="round"/>
<path d="M367.5 181.7C367.4 184.2 366.6 192 366.7 196.7C366.8 201.4 366.9 205.6 368.3 210C369.7 214.4 371.7 219.6 375 223.3C378.3 227.1 383.3 230.6 388.3 232.5C393.3 234.4 399.4 235.3 405 235C410.6 234.7 416.4 233 421.7 230.8C427 228.6 432.5 225.4 436.7 221.7C440.9 217.9 444.4 212.8 446.7 208.3C449 203.9 449.9 197.2 450.5 195" fill="none" stroke="#151b1b" stroke-width="2.0" stroke-linecap="round" stroke-linejoin="round"/>
<path d="M475 199.2C476.1 201.3 478.6 207.4 481.7 211.7C484.8 216 488.9 221.5 493.3 225C497.7 228.5 503.3 231 508.3 232.5C513.3 234 518.6 234.6 523.3 234.2C528 233.8 532.5 232.7 536.7 230C540.9 227.3 545.4 222.8 548.3 218.3C551.2 213.9 553.1 208.3 554.2 203.3C555.3 198.3 555.3 192.7 555 188.3C554.7 183.9 552.9 178.6 552.5 176.7" fill="none" stroke="#151b1b" stroke-width="2.0" stroke-linecap="round" stroke-linejoin="round"/>
<path d="M640 466.5C641.1 469.9 644.7 480.1 646.5 487C648.3 493.9 649.6 502.2 650.6 507.7C651.6 513.2 651.7 517.4 652.7 520C653.7 522.6 655.6 523.5 656.8 523.5C658 523.5 659.2 524 660 520C660.8 516 661.2 506 661.4 499.5C661.6 493 661.4 484.1 661.4 481" fill="none" stroke="#151b1b" stroke-width="1.6" stroke-linecap="round" stroke-linejoin="round"/>
<g fill="none" stroke="#151b1b" stroke-width="1.7" stroke-linecap="round" stroke-linejoin="round">
<path d="M384.6 199.6C384.7 198.6 384.2 195.7 385 193.8C385.8 191.8 387.5 189.1 389.1 187.9C390.8 186.7 392.9 186.3 394.9 186.4C396.8 186.5 399.1 187.4 400.8 188.5C402.5 189.6 404 191.6 404.9 193.2C405.8 194.8 406.1 197.1 406.4 197.8"/>
<path d="M406.4 202.5C406.2 203.2 405.4 205.9 405.2 206.6"/>
<path d="M386.7 204.3C387.5 204.9 389.7 206.9 391.4 207.8C393.1 208.7 395 209.5 396.7 209.6C398.4 209.7 400.6 208.6 401.4 208.4"/>
<path d="M390.2 200.2C390.3 199.5 390.1 197.2 390.8 196.1C391.5 195 392.9 194.1 394.3 193.8C395.7 193.4 397.7 193.7 399 194.3C400.3 194.9 401.6 196.1 402 197.3C402.4 198.5 402.1 200.4 401.4 201.4C400.7 202.4 399.2 202.9 397.9 203.1C396.6 203.3 394.4 202.6 393.8 202.5"/>
<path d="M530.9 186.1C529.9 186.2 526.9 185.9 525 186.7C523.1 187.5 520.8 189 519.7 190.8C518.6 192.6 518.1 195.2 518.2 197.3C518.3 199.5 519.1 201.8 520.3 203.7C521.5 205.5 523.7 207.4 525.6 208.4C527.5 209.4 529.6 209.9 531.5 209.6C533.4 209.3 535.5 207.5 536.7 206.6C537.9 205.7 538.2 204.7 538.5 204.3"/>
<path d="M535 189.6C535.5 190.3 537.3 192.3 537.9 193.8C538.5 195.2 538.6 197.6 538.8 198.4"/>
<path d="M523.2 196.1C523.8 195.2 525.4 194.1 526.8 193.8C528.2 193.4 530.3 193.7 531.5 194.3C532.7 194.9 533.6 196.1 533.8 197.3C534 198.5 533.3 200.4 532.6 201.4C531.9 202.4 530.9 203.4 529.7 203.5C528.5 203.6 526.7 202.8 525.6 202C524.5 201.2 523.6 200 523.2 199C522.8 198 522.6 197 523.2 196.1Z"/>
</g>
<path d="M1017 22.5C1017 25 1017.3 32.9 1017 37.5C1016.7 42.1 1016.2 45.8 1015 50C1013.8 54.2 1012.5 58.5 1010 62.5C1007.5 66.5 1004.2 70.2 1000 73.8C995.8 77.3 991.7 80.6 985 83.8C978.3 86.9 967.5 90 960 92.5C952.5 95 945.8 95.8 940 98.8C934.2 101.7 928.8 105.2 925 110C921.2 114.8 919.2 122.5 917.5 127.5C915.8 132.5 915.4 131 914.7 140C914 149 913.5 169.2 913.3 181.7C913.1 194.2 913.8 205.3 913.3 215C912.8 224.7 911.7 231.4 910 240C908.3 248.6 905.8 257.5 903.3 266.7C900.8 275.9 898.5 284.4 895 295C891.5 305.6 886.7 318.3 882.5 330C878.3 341.7 873.9 353.3 870 365C866.1 376.7 862.3 390.1 859.1 400C855.9 409.9 853.3 415.8 850.9 424.7C848.5 433.6 847.1 444.3 844.7 453.6C842.3 462.9 838.7 473.8 836.5 480.3C834.3 486.8 831.6 487.9 831.3 492.7C830.9 497.5 832.5 503.4 834.4 509.2C836.3 515 840 521.9 842.7 527.7C845.5 533.5 848.3 539.9 850.9 544.2C853.5 548.5 856.9 552 858.1 553.5" fill="none" stroke="#151b1b" stroke-width="1.85" stroke-linecap="round" stroke-linejoin="round"/>
<path d="M955.8 225.8C955.1 229.6 953.2 240.9 951.7 248.3C950.2 255.7 948.2 262.5 946.7 270C945.2 277.5 944.5 284.6 942.5 293.3C940.5 302.1 938.3 313.1 935 322.5C931.7 331.9 927.5 339.6 922.5 350C917.5 360.4 908.9 376.7 905 385C901.1 393.3 902.1 394.1 899.3 400C896.5 405.9 891.3 414.4 888 420.6C884.7 426.8 881.8 431.6 879.7 437.1C877.6 442.6 876.1 448.1 875.2 453.6C874.4 459.1 875.7 464.5 874.6 470C873.5 475.5 870 481.3 868.4 486.5C866.8 491.7 865.3 495.9 865.3 501C865.3 506.1 867.2 511.6 868.4 517.4C869.6 523.2 872.1 530.1 872.5 536C872.9 541.9 871.4 548.9 870.5 552.5C869.6 556.1 869.1 557.8 867.4 557.6C865.7 557.4 861.8 552.1 860.2 551.4C858.7 550.7 858.5 553.1 858.1 553.5" fill="none" stroke="#151b1b" stroke-width="1.85" stroke-linecap="round" stroke-linejoin="round"/>
<path d="M1140.8 223.3C1142 227.8 1145.6 240.6 1148.3 250C1151 259.4 1153.8 269.7 1156.7 280C1159.6 290.3 1162.5 301.4 1165.8 311.7C1169.1 322 1173.1 332.8 1176.7 341.7C1180.3 350.6 1183.5 356.9 1187.5 365C1191.5 373.1 1196.8 383.1 1201 390C1205.2 396.9 1208.8 400.3 1212.4 406.5C1216 412.7 1220.1 420.8 1222.7 427C1225.3 433.2 1227.2 438.1 1227.9 443.6C1228.6 449.1 1227.2 454.5 1226.8 460C1226.3 465.5 1225 470.3 1225.2 476.5C1225.4 482.7 1227.3 490.2 1227.9 497.1C1228.5 504 1228.2 513.1 1228.9 517.7C1229.6 522.4 1230.6 524.3 1232 525C1233.4 525.7 1235.6 524 1237.1 521.8C1238.6 519.5 1240 517 1241.2 511.5C1242.4 506 1243.3 494 1244.3 488.9C1245.3 483.8 1246.5 482 1247 480.6" fill="none" stroke="#151b1b" stroke-width="1.85" stroke-linecap="round" stroke-linejoin="round"/>
<path d="M1228.9 520C1228.4 522 1227.3 528.1 1225.8 532C1224.2 535.9 1220.3 540.7 1219.6 543.5C1218.9 546.3 1220.2 548.6 1221.7 548.6C1223.2 548.6 1227.4 543.8 1228.9 543.5C1230.5 543.2 1229 547.5 1231 546.6C1233 545.7 1237.4 543.1 1241.2 538.3C1245 533.5 1250.2 523.9 1253.6 517.7C1257 511.5 1259.7 506.4 1261.8 501.2C1263.9 496 1265.7 491.2 1266 486.8C1266.3 482.4 1264.2 476.6 1263.9 474.5" fill="none" stroke="#151b1b" stroke-width="1.85" stroke-linecap="round" stroke-linejoin="round"/>
<path d="M1083.8 22.5C1083.8 25.8 1083.4 36.7 1083.8 42.5C1084.1 48.3 1084.5 52.9 1086 57.5C1087.5 62.1 1088.9 66.2 1092.5 70C1096.1 73.8 1101.2 77.3 1107.5 80C1113.8 82.7 1122.9 83.9 1130 86C1137.1 88.1 1144.7 90.2 1150 92.5C1155.3 94.8 1157.8 96.5 1161.7 100C1165.6 103.5 1170 107.8 1173.3 113.3C1176.6 118.8 1179.8 125.8 1181.7 133.3C1183.7 140.8 1184.2 150 1185 158.3C1185.8 166.6 1186.2 175 1186.7 183.3C1187.2 191.6 1187.3 200 1188.3 208.3C1189.3 216.6 1191 225.8 1192.5 233.3C1194 240.8 1196 247.7 1197.5 253.3C1199 258.9 1199.6 260.9 1201.7 266.7C1203.8 272.5 1207.2 280.8 1210 288.3C1212.8 295.8 1215.8 304.2 1218.3 311.7C1220.8 319.2 1223.2 326.1 1225 333.3C1226.8 340.5 1227.8 347.5 1229.2 355C1230.6 362.5 1232.2 372.5 1233.3 378.3C1234.4 384.1 1234.3 384.6 1236.1 390C1237.9 395.4 1241.7 403.1 1244.3 410.6C1246.9 418.2 1249.3 427.8 1251.5 435.3C1253.7 442.9 1255.6 449.4 1257.7 455.9C1259.8 462.4 1262.9 471.4 1263.9 474.5" fill="none" stroke="#151b1b" stroke-width="1.85" stroke-linecap="round" stroke-linejoin="round"/>
<path d="M955.8 225.8C955.8 228.5 955.3 236.6 955.9 242C956.5 247.4 958.5 251.7 959.5 258C960.5 264.3 961.4 273.3 962 280C962.6 286.7 963.1 292.5 963.1 298C963.1 303.5 962.7 308.7 962 313C961.3 317.3 960.9 317.8 958.7 324C956.5 330.2 952.6 339.8 949 350C945.4 360.2 940.5 374.2 937 385C933.5 395.8 930.2 405 927.8 415C925.4 425 923.6 435.8 922.5 445C921.4 454.2 920.8 459.2 921 470C921.2 480.8 922.2 496.2 923.8 510C925.2 523.8 927.5 538.3 930 552.5C932.5 566.7 935.8 581.2 938.8 595C941.7 608.8 945.2 622.5 947.5 635C949.8 647.5 951.3 662.3 952.5 670C953.7 677.7 954.6 675 954.9 681.3C955.1 687.6 955.4 697.9 954 707.7C952.6 717.5 948.3 728.7 946.7 739.9C945.1 751.1 944.1 762.3 944.3 775C944.5 787.7 946.5 801.4 948.1 816C949.7 830.6 951.8 845.1 954 862.9C956.2 880.7 960.1 913 961.3 923" fill="none" stroke="#151b1b" stroke-width="2.15" stroke-linecap="round" stroke-linejoin="round"/>
<path d="M1039.6 477C1039.3 478.2 1038.7 480 1038 484.5C1037.3 489 1036.3 496.4 1035.4 504C1034.5 511.6 1033.7 520.7 1032.8 530C1031.9 539.3 1031.1 548.3 1029.8 560C1028.5 571.7 1026.3 588.3 1025 600C1023.6 611.7 1022.7 621.5 1021.7 630C1020.7 638.5 1019.4 644.7 1019.2 651C1019 657.3 1020 660.5 1020.3 668C1020.6 675.5 1022 684 1021.2 696C1020.4 708 1017.2 723.8 1015.5 739.9C1013.8 756 1012.6 776 1011.1 792.6C1009.6 809.2 1008.4 824.9 1006.7 839.5C1005 854.1 1002.9 866.6 1000.9 880.5C998.9 894.4 996 915.9 995 923" fill="none" stroke="#151b1b" stroke-width="2.15" stroke-linecap="round" stroke-linejoin="round"/>
<path d="M1040.3 477C1040.4 478.2 1040.2 480 1040.7 484.5C1041.2 489 1042.6 496.4 1043.2 504C1043.8 511.6 1043.9 521 1044.2 530C1044.5 539 1044.7 548.9 1045.2 558C1045.7 567.1 1046.5 577.3 1047.2 584.6C1047.9 591.9 1048.6 594.4 1049.6 602C1050.6 609.6 1052.3 621.5 1053 630C1053.7 638.5 1054 646.7 1053.9 653C1053.8 659.3 1052.8 660.8 1052.2 668C1051.7 675.2 1050.4 684 1050.6 696C1050.8 708 1052.4 725.3 1053.6 739.9C1054.8 754.5 1056.7 769.1 1058 783.8C1059.3 798.4 1060.5 812.7 1061.5 827.8C1062.5 842.9 1063 858.7 1063.8 874.6C1064.6 890.5 1065.8 914.9 1066.2 923" fill="none" stroke="#151b1b" stroke-width="2.15" stroke-linecap="round" stroke-linejoin="round"/>
<path d="M1140.8 223.3C1140.2 226.1 1139.5 233.1 1137.5 240C1135.5 246.9 1130.9 256.7 1128.8 265C1126.6 273.3 1125.1 281.7 1124.5 290C1123.9 298.3 1124.2 308.1 1125 315C1125.8 321.9 1127.5 324.5 1129.5 331.7C1131.5 338.9 1134.8 350.5 1137 358.3C1139.2 366.1 1140.6 371.2 1142.8 378.3C1145 385.4 1148.2 394.9 1150 401C1151.8 407.1 1152.5 409.8 1153.6 415C1154.7 420.2 1155.8 425 1156.8 432C1157.8 439 1159.3 448.2 1159.6 457C1159.9 465.8 1159.6 474.7 1158.8 484.8C1158 494.9 1156.4 506.4 1154.7 517.7C1153 529 1151.2 539.6 1148.8 552.5C1146.3 565.4 1143.1 581.2 1140 595C1136.9 608.8 1132.5 625.5 1130 635C1127.5 644.5 1127 644.3 1125.3 652C1123.5 659.7 1120.7 671.5 1119.5 681.3C1118.3 691.1 1117.3 699.9 1118 710.6C1118.7 721.3 1122.7 734 1123.9 745.7C1125.1 757.4 1126 766.2 1125.3 780.9C1124.6 795.5 1121.9 816 1119.5 833.6C1117.1 851.2 1113.5 871.4 1110.7 886.3C1107.9 901.2 1103.9 916.9 1102.5 923" fill="none" stroke="#151b1b" stroke-width="2.15" stroke-linecap="round" stroke-linejoin="round"/>
<path d="M870.5 472.1C868.6 477.2 861.2 494.4 859.1 503C857 511.6 859 519.1 858.1 523.6C857.2 528.1 855.4 529.4 854 529.8C852.6 530.1 850.9 529.5 849.9 525.7C848.9 521.9 848.2 513.6 847.8 507.1C847.4 500.6 847.5 489.9 847.4 486.5" fill="none" stroke="#151b1b" stroke-width="1.6" stroke-linecap="round" stroke-linejoin="round"/>
<g stroke="#5a5a5a" stroke-width="1.15" fill="none">
<path d="M297.5 110.3L345.8 110.3"/>
<path d="M289.2 193L335.3 193"/>
<path d="M270.8 253.7L317.5 253.7"/>
<path d="M265 307.8L305 307.8"/>
<path d="M339.5 463.7L452.5 463.7"/>
<path d="M555 190.5L620.8 190.5"/>
<path d="M547.5 233L612.5 233"/>
<path d="M496.7 254.5L613.3 254.5"/>
<path d="M493.8 314.2L628.7 314.2"/>
<path d="M551.2 339.8L647.5 339.8"/>
<path d="M493.8 364.6L665.8 364.6"/>
<path d="M566.2 402.8L661.7 402.8"/>
<path d="M547 483.3L684.7 483.3"/>
<path d="M569.5 521.7L682 521.7"/>
<path d="M491.2 562.7L605.8 562.7"/>
<path d="M511.5 647.4L590.4 647.4"/>
<path d="M538 681.5L605.9 681.5"/>
<path d="M957.5 38L1027.5 38"/>
<path d="M887.5 91.5L985 91.5"/>
<path d="M875 119.5L932.5 119.5"/>
<path d="M880.8 161.3L945.8 161.3"/>
<path d="M878 220L924.2 220"/>
<path d="M854.2 284L908.8 284"/>
<path d="M820.8 520.3L940 520.3"/>
<path d="M882 563L1020.5 563"/>
<path d="M873.8 638.8L985 638.8"/>
<path d="M885 780.3L973 780.3"/>
<path d="M933.5 877L966.6 877"/>
<path d="M1127.5 130.2L1216.7 130.2"/>
<path d="M1093.8 151L1196.7 151"/>
<path d="M1128.8 202.3L1211.7 202.3"/>
<path d="M1080 246.8L1203.3 246.8"/>
<path d="M1118.8 269.1L1212.8 269.1"/>
<path d="M1117.5 313L1229.2 313"/>
<path d="M1123 350.2L1237.5 350.2"/>
<path d="M1043 374.1L1239.2 374.1"/>
<path d="M1099 402.2L1252.4 402.2"/>
<path d="M1146.6 429.5L1257.6 429.5"/>
<path d="M1110 469.3L1264.6 469.3"/>
<path d="M549.7 51.7V145.8M549.7 124.7H379.5V151" stroke="#8c8c8c" stroke-width="1.7"/>
<path d="M593.75 781.2H557.5V795.75H505"/>
</g>
<g id="labels">
<text y="118.7"><tspan x="124.9" textLength="83.6" lengthAdjust="spacing">deltoids</tspan> <tspan x="219" textLength="73.1" lengthAdjust="spacing">muscle</tspan></text>
<text y="199.2"><tspan x="172.8" textLength="60.7" lengthAdjust="spacing">upper</tspan> <tspan x="242.3" textLength="40.4" lengthAdjust="spacing">arm</tspan></text>
<text y="259.2"><tspan x="157.3" textLength="60.4" lengthAdjust="spacing">elbow</tspan> <tspan x="228.2" textLength="35.8" lengthAdjust="spacing">line</tspan></text>
<text x="191.8" y="313" textLength="70" lengthAdjust="spacing">forarm</text>
<text x="278.7" y="469" textLength="55.6" lengthAdjust="spacing">pubic</text>
<text x="289" y="489.5" textLength="45.3" lengthAdjust="spacing">area</text>
<text x="529.3" y="45.8" textLength="72.9" lengthAdjust="spacing">axillary</text>
<text x="628.5" y="195.8" textLength="67.5" lengthAdjust="spacing">breast</text>
<text y="236.7"><tspan x="620.7" textLength="65.3" lengthAdjust="spacing">lateral</tspan> <tspan x="695.7" textLength="58.6" lengthAdjust="spacing">chest</tspan></text>
<text y="263.3"><tspan x="620.7" textLength="61.1" lengthAdjust="spacing">under</tspan> <tspan x="690.7" textLength="67" lengthAdjust="spacing">breast</tspan></text>
<text y="318.8"><tspan x="638.2" textLength="58.6" lengthAdjust="spacing">upper</tspan> <tspan x="704.5" textLength="96.5" lengthAdjust="spacing">abdomen</tspan></text>
<text x="656.2" y="348" textLength="61.5" lengthAdjust="spacing">flanks</text>
<text y="371.7"><tspan x="670.2" textLength="54.1" lengthAdjust="spacing">lower</tspan> <tspan x="733.2" textLength="97" lengthAdjust="spacing">abdomen</tspan></text>
<text x="669.8" y="410.8" textLength="61.5" lengthAdjust="spacing">flanks</text>
<text y="485.5"><tspan x="692" textLength="52" lengthAdjust="spacing">front</tspan> <tspan x="754.8" textLength="53.7" lengthAdjust="spacing">thigh</tspan></text>
<text y="527"><tspan x="695" textLength="57.7" lengthAdjust="spacing">outer</tspan> <tspan x="761.5" textLength="53.7" lengthAdjust="spacing">thigh</tspan></text>
<text y="569.2"><tspan x="612.3" textLength="52" lengthAdjust="spacing">inner</tspan> <tspan x="674" textLength="53.7" lengthAdjust="spacing">thigh</tspan></text>
<text y="653"><tspan x="597.2" textLength="68" lengthAdjust="spacing">chanel</tspan> <tspan x="675.2" textLength="35.8" lengthAdjust="spacing">line</tspan></text>
<text x="610.8" y="686.8" textLength="49.8" lengthAdjust="spacing">knee</text>
<text x="600.2" y="788.2" textLength="72.8" lengthAdjust="spacing">axillary</text>
<text y="45"><tspan x="844.3" textLength="48.4" lengthAdjust="spacing">back</tspan> <tspan x="902.8" textLength="50.2" lengthAdjust="spacing">neck</tspan></text>
<text y="96.2"><tspan x="699.8" textLength="97" lengthAdjust="spacing">trapezius</tspan> <tspan x="806.5" textLength="72.8" lengthAdjust="spacing">muscle</tspan></text>
<text y="125.8"><tspan x="703.2" textLength="83.6" lengthAdjust="spacing">deltoids</tspan> <tspan x="796.5" textLength="72.5" lengthAdjust="spacing">muscle</tspan></text>
<text x="764.8" y="166.7" textLength="109.5" lengthAdjust="spacing">subaxillary</text>
<text y="225"><tspan x="762.3" textLength="60" lengthAdjust="spacing">upper</tspan> <tspan x="832.3" textLength="40.4" lengthAdjust="spacing">arm</tspan></text>
<text y="289.2"><tspan x="739" textLength="60.3" lengthAdjust="spacing">elbow</tspan> <tspan x="809.5" textLength="35.7" lengthAdjust="spacing">line</tspan></text>
<text y="569.2"><tspan x="754.5" textLength="52" lengthAdjust="spacing">inner</tspan> <tspan x="816.2" textLength="54.2" lengthAdjust="spacing">thigh</tspan></text>
<text y="645"><tspan x="753.5" textLength="48.8" lengthAdjust="spacing">back</tspan> <tspan x="812.8" textLength="53.8" lengthAdjust="spacing">thigh</tspan></text>
<text x="836.5" y="787.5" textLength="39" lengthAdjust="spacing">calf</text>
<text x="863.6" y="883.4" textLength="66.5" lengthAdjust="spacing">ankles</text>
<text x="1225.7" y="137" textLength="67.8" lengthAdjust="spacing">armpit</text>
<text x="1203.7" y="161.2" textLength="78.1" lengthAdjust="spacing">scapula</text>
<text x="1218.5" y="209.2" textLength="69.5" lengthAdjust="spacing">braline</text>
<text y="252.5"><tspan x="1214.8" textLength="55.4" lengthAdjust="spacing">lower</tspan> <tspan x="1281" textLength="49.2" lengthAdjust="spacing">back</tspan></text>
<text y="276.7"><tspan x="1219.8" textLength="64.5" lengthAdjust="spacing">lateral</tspan> <tspan x="1294.5" textLength="59" lengthAdjust="spacing">chest</tspan></text>
<text y="320"><tspan x="1237.7" textLength="41.3" lengthAdjust="spacing">side</tspan> <tspan x="1289.8" textLength="61.5" lengthAdjust="spacing">flanks</tspan></text>
<text y="356.7"><tspan x="1246.2" textLength="43.1" lengthAdjust="spacing">love</tspan> <tspan x="1299.8" textLength="67.9" lengthAdjust="spacing">handle</tspan></text>
<text y="381.3"><tspan x="1247" textLength="49" lengthAdjust="spacing">back</tspan> <tspan x="1306.2" textLength="61.5" lengthAdjust="spacing">flanks</tspan></text>
<text x="1258.2" y="410.3" textLength="94.1" lengthAdjust="spacing">buttocks</text>
<text x="1264.8" y="435.8" textLength="42" lengthAdjust="spacing">hips</text>
<text x="1274" y="475.8" textLength="94.5" lengthAdjust="spacing">pantyline</text>
</g>
</svg></div></body></html>
